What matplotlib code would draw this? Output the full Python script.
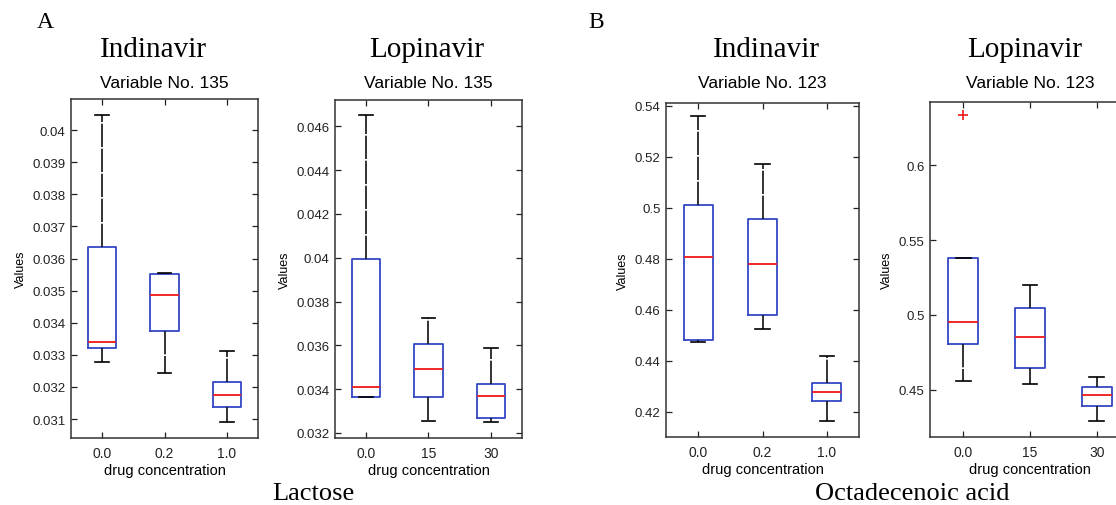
import matplotlib
matplotlib.use("Agg")
import matplotlib.pyplot as plt
from matplotlib.ticker import FuncFormatter

# ---- data (box stats per drug concentration) ----
conc_indinavir = ["0.0", "0.2", "1.0"]
conc_lopinavir = ["0.0", "15", "30"]

# Lactose, Variable No. 135
ind135_whislo = [0.03279, 0.03244, 0.03091]
ind135_q1 = [0.03321, 0.03373, 0.03139]
ind135_med = [0.03340, 0.03487, 0.03176]
ind135_q3 = [0.03636, 0.03552, 0.03214]
ind135_whishi = [0.04046, 0.03555, 0.03312]

lop135_whislo = [0.03363, 0.03255, 0.03249]
lop135_q1 = [0.03366, 0.03366, 0.03269]
lop135_med = [0.03412, 0.03491, 0.03369]
lop135_q3 = [0.03992, 0.03605, 0.03425]
lop135_whishi = [0.04650, 0.03723, 0.03586]

# Octadecenoic acid, Variable No. 123
ind123_whislo = [0.4475, 0.4523, 0.4165]
ind123_q1 = [0.4481, 0.4578, 0.4242]
ind123_med = [0.4805, 0.4779, 0.4280]
ind123_q3 = [0.5009, 0.4957, 0.4314]
ind123_whishi = [0.5360, 0.5173, 0.4418]

lop123_whislo = [0.4556, 0.4540, 0.4292]
lop123_q1 = [0.4804, 0.4648, 0.4392]
lop123_med = [0.4956, 0.4853, 0.4467]
lop123_q3 = [0.5384, 0.5047, 0.4518]
lop123_whishi = [0.5384, 0.5199, 0.4585]
lop123_fliers = [[0.6334], [], []]

BLUE = "#3447c4"
RED = "#f01818"
SANS = "Liberation Sans"
SERIF = "Liberation Serif"

W, H = 1116, 506
fig = plt.figure(figsize=(W / 100, H / 100), dpi=100)


def make_stats(lo, q1, med, q3, hi, fliers=None):
    stats = []
    for i in range(len(med)):
        stats.append({
            "whislo": lo[i], "q1": q1[i], "med": med[i], "q3": q3[i],
            "whishi": hi[i], "fliers": fliers[i] if fliers else [],
        })
    return stats


def rect(left, right, top, bottom):
    return [left / W, 1 - bottom / H, (right - left) / W, (bottom - top) / H]


def draw_panel(box, stats, labels, ylim, yticks, title, drug, drug_x):
    ax = fig.add_axes(rect(*box))
    ax.bxp(
        stats, positions=[1, 2, 3], widths=0.45, capwidths=0.22,
        showfliers=True, patch_artist=False,
        boxprops=dict(color=BLUE, linewidth=1.3),
        medianprops=dict(color=RED, linewidth=1.3),
        whiskerprops=dict(color="#111111", linewidth=1.2, linestyle=(0, (14, 1))),
        capprops=dict(color="black", linewidth=1.2),
        flierprops=dict(marker="+", markeredgecolor=RED, markersize=7,
                        markeredgewidth=1.2),
    )
    ax.set_xlim(0.5, 3.5)
    ax.set_ylim(*ylim)
    ax.set_yticks(yticks)
    ax.yaxis.set_major_formatter(FuncFormatter(lambda v, p: "%g" % round(v, 4)))
    ax.set_xticks([1, 2, 3])
    ax.set_xticklabels(labels)
    ax.tick_params(direction="in", top=True, right=True, length=4,
                   width=0.9, labelsize=9.5, pad=4, colors="#222222")
    ax.tick_params(axis="x", labelsize=10, pad=6)
    for lbl in ax.get_xticklabels() + ax.get_yticklabels():
        lbl.set_family(SANS)
    for s in ax.spines.values():
        s.set_color("#333333")
        s.set_linewidth(1.1)
    center = (box[0] + box[1]) / 2 / W
    fig.text(center, 1 - 84 / H, title, fontsize=12.5, family=SANS,
             ha="center", va="center")
    ax.set_xlabel("drug concentration", fontsize=10.5, family=SANS, labelpad=2)
    ax.set_ylabel("Values", fontsize=9, family=SANS, labelpad=4)
    fig.text(drug_x, 1 - 50 / H, drug, fontsize=21, family=SERIF,
             ha="center", va="center")
    return ax


draw_panel((71, 258, 100, 439),
           make_stats(ind135_whislo, ind135_q1, ind135_med, ind135_q3, ind135_whishi),
           conc_indinavir, (0.03041, 0.04097),
           [0.031 + 0.001 * i for i in range(10)],
           "Variable No. 135", "Indinavir", 153 / W)
draw_panel((335, 522, 101, 439),
           make_stats(lop135_whislo, lop135_q1, lop135_med, lop135_q3, lop135_whishi),
           conc_lopinavir, (0.03177, 0.0472),
           [0.032 + 0.002 * i for i in range(8)],
           "Variable No. 135", "Lopinavir", 427 / W)
draw_panel((666, 859, 104, 438),
           make_stats(ind123_whislo, ind123_q1, ind123_med, ind123_q3, ind123_whishi),
           conc_indinavir, (0.4102, 0.541),
           [0.42 + 0.02 * i for i in range(7)],
           "Variable No. 123", "Indinavir", 766 / W)
draw_panel((930, 1130, 103, 438),
           make_stats(lop123_whislo, lop123_q1, lop123_med, lop123_q3, lop123_whishi,
                      lop123_fliers),
           conc_lopinavir, (0.4184, 0.6424),
           [0.45, 0.5, 0.55, 0.6],
           "Variable No. 123", "Lopinavir", 1025 / W)

fig.text(45 / W, 1 - 22 / H, "A", fontsize=17, family=SERIF, ha="center", va="center")
fig.text(596 / W, 1 - 22 / H, "B", fontsize=17, family=SERIF, ha="center", va="center")
fig.text(313 / W, 1 - 494 / H, "Lactose", fontsize=19, family=SERIF,
         ha="center", va="center")
fig.text(912 / W, 1 - 494 / H, "Octadecenoic acid", fontsize=19, family=SERIF,
         ha="center", va="center")

fig.savefig("out.png", dpi=100)
